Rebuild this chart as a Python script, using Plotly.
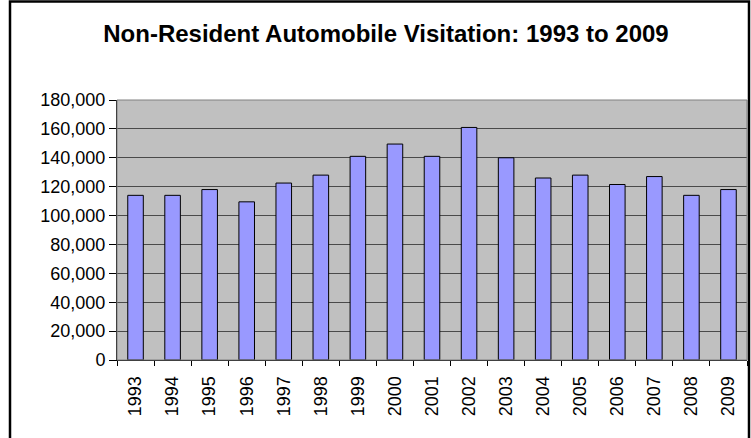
import plotly.graph_objects as go

years = ["1993","1994","1995","1996","1997","1998","1999","2000","2001",
         "2002","2003","2004","2005","2006","2007","2008","2009"]
visits = [114000,114000,118000,109500,122500,128000,141000,149500,141000,
          161000,140000,126000,128000,121500,127000,114000,118000]
title_text = "Non-Resident Automobile Visitation: 1993 to 2009"

W, H = 751, 438
L, R, T, B = 117, 4, 100, 78
pw, ph = W - L - R, H - T - B

def px_x(p):
    return (p - L) / pw

def px_y(p):
    return (H - B - p) / ph

fig = go.Figure(go.Bar(
    x=years, y=visits,
    marker=dict(color="#9999FF", line=dict(color="black", width=1)),
    width=0.42,
))

fig.update_layout(
    width=W, height=H,
    margin=dict(l=L, r=R, t=T, b=B),
    paper_bgcolor="white",
    plot_bgcolor="#C0C0C0",
    showlegend=False,
    font=dict(family="Liberation Sans, Arial, sans-serif", color="black"),
    title=dict(text="<b>" + title_text + "</b>", x=386 / W, xanchor="center",
               xref="container", y=1 - 34 / H, yanchor="middle", yref="container",
               font=dict(size=24, color="black")),
    xaxis=dict(type="category", tickangle=-90, tickfont=dict(size=18),
               showline=True, linecolor="black", linewidth=1,
               ticks="outside", ticklen=5, tickcolor="black", tickson="boundaries",
               ticklabelstandoff=8,
               showgrid=False, mirror=False),
    yaxis=dict(range=[0, 180000], dtick=20000, tickformat=",",
               tickfont=dict(size=18),
               showline=True, linecolor="black", linewidth=1,
               ticks="outside", ticklen=7, tickcolor="black",
               showgrid=True, gridcolor="#4a4a4a", gridwidth=1,
               zeroline=False),
    shapes=[
        dict(type="rect", xref="paper", yref="paper",
             x0=0, x1=1, y0=0, y1=1, line=dict(color="#808080", width=1),
             fillcolor="rgba(0,0,0,0)", layer="above"),
        dict(type="rect", xref="paper", yref="paper",
             x0=px_x(10), x1=px_x(749), y0=px_y(460), y1=px_y(1.5),
             line=dict(color="black", width=2.5), fillcolor="rgba(0,0,0,0)"),
    ],
)

fig.write_html("out.html", config={"displayModeBar": False},
               post_script="document.body.style.margin='0';document.body.style.overflow='hidden';")
